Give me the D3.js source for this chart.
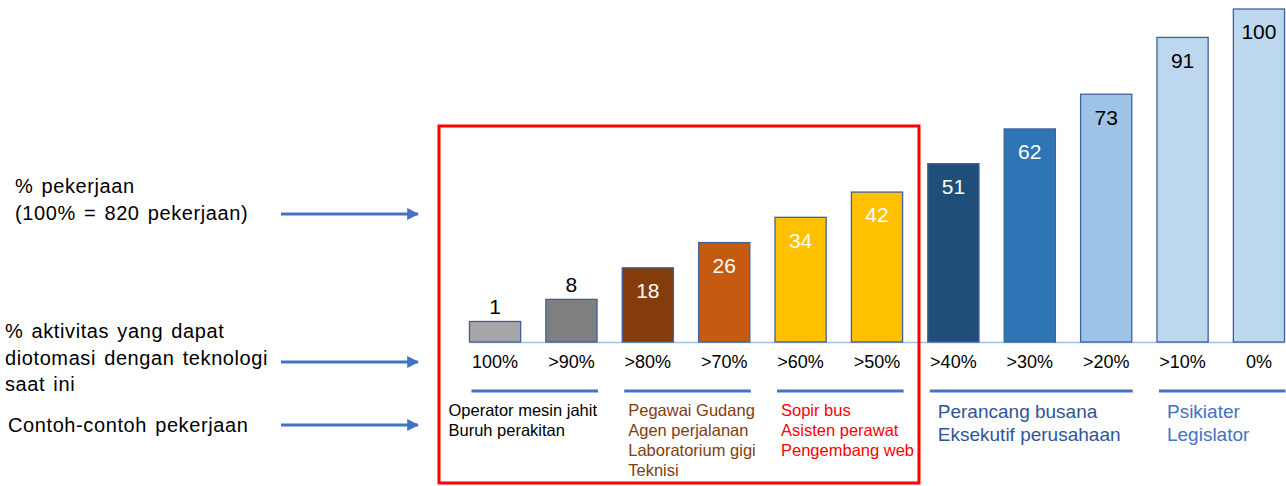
<!DOCTYPE html>
<html>
<head>
<meta charset="utf-8">
<script src="https://cdn.jsdelivr.net/npm/d3@7"></script>
<style>
  body { margin: 0; background: #fff; }
  svg { display: block; font-family: "Liberation Sans", Arial, sans-serif; }
</style>
</head>
<body>
<svg width="1286" height="486"></svg>
<script>
const categories = ["100%", ">90%", ">80%", ">70%", ">60%", ">50%", ">40%", ">30%", ">20%", ">10%", "0%"];
const values = [1, 8, 18, 26, 34, 42, 51, 62, 73, 91, 100];
const barColors = ["#a6a6a6", "#7f7f7f", "#843c0c", "#c55a11", "#ffc000", "#ffc000",
  "#1f4e79", "#2e75b6", "#9dc3e6", "#bdd7ee", "#bdd7ee"];
const labelColors = ["#000", "#000", "#fff", "#fff", "#fff", "#fff", "#fff", "#fff", "#000", "#000", "#000"];

// job example groups: first and last category index, text lines, colour
const groups = [
  { from: 0, to: 1, lines: ["Operator mesin jahit", "Buruh perakitan"], color: "#000000" },
  { from: 2, to: 3, lines: ["Pegawai Gudang", "Agen perjalanan", "Laboratorium gigi", "Teknisi"], color: "#843c0c" },
  { from: 4, to: 5, lines: ["Sopir bus", "Asisten perawat", "Pengembang web"], color: "#ff0000" },
  { from: 6, to: 8, lines: ["Perancang busana", "Eksekutif perusahaan"], color: "#2f5597" },
  { from: 9, to: 10, lines: ["Psikiater", "Legislator"], color: "#4472c4" }
];

const rowLabels = [
  { lines: ["% pekerjaan", "(100% = 820 pekerjaan)"], x: 15, y: 186, arrowY: 214 },
  { lines: ["% aktivitas yang dapat", "diotomasi dengan teknologi", "saat ini"], x: 5, y: 331, arrowY: 362 },
  { lines: ["Contoh-contoh pekerjaan"], x: 8, y: 425, arrowY: 425 }
];

const svg = d3.select("svg");
const baseline = 342;

const x = d3.scaleBand()
  .domain(categories)
  .range([458, 1296])
  .paddingInner(0.33)
  .paddingOuter(0.15);

const y = d3.scaleLinear().domain([-5.5, 100]).range([baseline, 9]);

// arrow marker
svg.append("defs").append("marker")
  .attr("id", "arr")
  .attr("viewBox", "0 0 10 10")
  .attr("refX", 9).attr("refY", 5)
  .attr("markerWidth", 4).attr("markerHeight", 4)
  .attr("orient", "auto")
  .append("path").attr("d", "M0,0L10,5L0,10z").attr("fill", "#4472c4");

// left row labels
rowLabels.forEach(r => {
  const t = svg.append("text")
    .attr("x", r.x)
    .attr("y", r.y)
    .attr("font-size", 20)
    .attr("letter-spacing", 0.6)
    .attr("word-spacing", 2)
    .attr("fill", "#000");
  r.lines.forEach((l, j) => {
    t.append("tspan").attr("x", r.x).attr("dy", j === 0 ? "0.35em" : 26.5).text(l);
  });
  svg.append("line")
    .attr("x1", 281).attr("x2", 418)
    .attr("y1", r.arrowY).attr("y2", r.arrowY)
    .attr("stroke", "#4472c4").attr("stroke-width", 3)
    .attr("marker-end", "url(#arr)");
});

// baseline
svg.append("line")
  .attr("x1", x(categories[0])).attr("x2", x(categories[10]) + x.bandwidth())
  .attr("y1", baseline + 0.5).attr("y2", baseline + 0.5)
  .attr("stroke", "#9dc3e6").attr("stroke-width", 1.5);

// bars
svg.append("g").selectAll("rect")
  .data(values)
  .join("rect")
  .attr("x", (d, i) => x(categories[i]))
  .attr("y", d => y(d))
  .attr("width", x.bandwidth())
  .attr("height", d => baseline - y(d))
  .attr("fill", (d, i) => barColors[i])
  .attr("stroke", "#41609a")
  .attr("stroke-width", 1.3);

// value labels
svg.append("g").selectAll("text")
  .data(values)
  .join("text")
  .attr("x", (d, i) => x(categories[i]) + x.bandwidth() / 2)
  .attr("y", (d, i) => i < 2 ? y(d) - 15 : y(d) + 23)
  .attr("dy", "0.35em")
  .attr("text-anchor", "middle")
  .attr("font-size", 21)
  .attr("fill", (d, i) => labelColors[i])
  .text(d => d);

// category labels
svg.append("g").selectAll("text")
  .data(categories)
  .join("text")
  .attr("x", d => x(d) + x.bandwidth() / 2)
  .attr("y", 362)
  .attr("dy", "0.35em")
  .attr("text-anchor", "middle")
  .attr("font-size", 18)
  .attr("fill", "#000")
  .text(d => d);

// group underline and examples
groups.forEach(g => {
  const x0 = x(categories[g.from]);
  const x1 = x(categories[g.to]) + x.bandwidth();
  const big = g.from >= 6;
  svg.append("line")
    .attr("x1", x0 + 2).attr("x2", x1 + 1)
    .attr("y1", 391).attr("y2", 391)
    .attr("stroke", "#4472c4").attr("stroke-width", 3);
  const tx = g.from === 0 ? x0 - 21 : x0 + (big ? 10 : 6);
  const t = svg.append("text")
    .attr("x", tx).attr("y", big ? 411 : 410)
    .attr("font-size", big ? 19 : 16.5)
    .attr("fill", g.color);
  g.lines.forEach((l, j) => {
    t.append("tspan").attr("x", tx).attr("dy", j === 0 ? "0.35em" : (big ? 23 : 20)).text(l);
  });
});

// red highlight box
svg.append("rect")
  .attr("x", 439).attr("y", 126)
  .attr("width", 480).attr("height", 357)
  .attr("fill", "none")
  .attr("stroke", "#ff0000").attr("stroke-width", 3);
</script>
</body>
</html>
